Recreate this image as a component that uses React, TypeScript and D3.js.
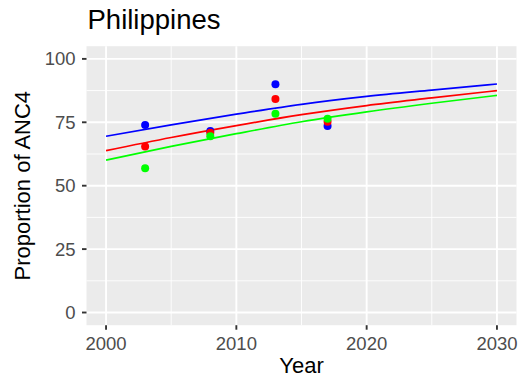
import * as d3 from "d3";

// Modelled proportions (%) at 5-year steps
const lineYears = [2000, 2005, 2010, 2015, 2020, 2025, 2030];
const blueLine = [69.5, 74.0, 78.2, 82.1, 85.2, 87.7, 90.1];
const redLine = [63.8, 69.0, 73.7, 78.0, 81.6, 84.6, 87.5];
const greenLine = [60.1, 65.5, 70.5, 75.2, 79.1, 82.5, 85.6];

// Survey observations
const surveyYears = [2003, 2008, 2013, 2017];
const bluePoints = [73.9, 71.6, 90.0, 73.5];
const redPoints = [65.5, 70.9, 84.2, 75.2];
const greenPoints = [56.9, 69.5, 78.4, 76.4];

const xTicks = [2000, 2010, 2020, 2030];
const xMinor = [2005, 2015, 2025];
const yTicks = [0, 25, 50, 75, 100];
const yMinor = [12.5, 37.5, 62.5, 87.5];

const series = [
  { color: "#0000FF", line: blueLine, points: bluePoints },
  { color: "#FF0000", line: redLine, points: redPoints },
  { color: "#00FF00", line: greenLine, points: greenPoints },
];

const W = 523;
const H = 382;
const panel = { left: 86.5, right: 516.5, top: 46.2, bottom: 325.2 };
const FONT = "'Liberation Sans', Arial, Helvetica, sans-serif";

export default function App() {
  const x = d3.scaleLinear().domain([1998.5, 2031.5]).range([panel.left, panel.right]);
  const y = d3.scaleLinear().domain([-5, 105]).range([panel.bottom, panel.top]);

  const lineGen = (vals: number[]) =>
    d3
      .line<number>()
      .x((_, i) => x(lineYears[i]))
      .y((d) => y(d))
      .curve(d3.curveMonotoneX)(vals) as string;

  return (
    <svg
      width={W}
      height={H}
      style={{ position: "absolute", left: 0, top: 0, background: "#fff" }}
      fontFamily={FONT}
    >
      {/* panel background */}
      <rect
        x={panel.left}
        y={panel.top}
        width={panel.right - panel.left}
        height={panel.bottom - panel.top}
        fill="#EBEBEB"
      />

      {/* minor grid */}
      {xMinor.map((t) => (
        <line key={"xm" + t} x1={x(t)} x2={x(t)} y1={panel.top} y2={panel.bottom} stroke="#fff" strokeWidth={0.9} />
      ))}
      {yMinor.map((t) => (
        <line key={"ym" + t} x1={panel.left} x2={panel.right} y1={y(t)} y2={y(t)} stroke="#fff" strokeWidth={0.9} />
      ))}
      {/* major grid */}
      {xTicks.map((t) => (
        <line key={"xg" + t} x1={x(t)} x2={x(t)} y1={panel.top} y2={panel.bottom} stroke="#fff" strokeWidth={1.9} />
      ))}
      {yTicks.map((t) => (
        <line key={"yg" + t} x1={panel.left} x2={panel.right} y1={y(t)} y2={y(t)} stroke="#fff" strokeWidth={1.9} />
      ))}

      {/* fitted lines */}
      {series.map((s) => (
        <path key={"l" + s.color} d={lineGen(s.line)} fill="none" stroke={s.color} strokeWidth={1.7} />
      ))}

      {/* observed points */}
      {series.map((s) =>
        s.points.map((v, i) => (
          <circle key={s.color + i} cx={x(surveyYears[i])} cy={y(v)} r={4} fill={s.color} />
        ))
      )}

      {/* x axis */}
      {xTicks.map((t) => (
        <g key={"xt" + t}>
          <line x1={x(t)} x2={x(t)} y1={panel.bottom} y2={panel.bottom + 4.5} stroke="#333" strokeWidth={1.9} />
          <text x={x(t)} y={349.5} textAnchor="middle" fontSize={18.5} fill="#4D4D4D">
            {t}
          </text>
        </g>
      ))}

      {/* y axis */}
      {yTicks.map((t) => (
        <g key={"yt" + t}>
          <line x1={panel.left - 4.5} x2={panel.left} y1={y(t)} y2={y(t)} stroke="#333" strokeWidth={1.9} />
          <text x={75.5} y={y(t) + 6.5} textAnchor="end" fontSize={18.5} fill="#4D4D4D">
            {t}
          </text>
        </g>
      ))}

      {/* axis titles */}
      <text x={(panel.left + panel.right) / 2} y={373.3} textAnchor="middle" fontSize={22} fill="#000">
        Year
      </text>
      <text
        transform={`translate(29.5,${(panel.top + panel.bottom) / 2}) rotate(-90)`}
        textAnchor="middle"
        fontSize={22}
        fill="#000"
      >
        Proportion of ANC4
      </text>

      {/* title */}
      <text x={87.5} y={28.7} fontSize={27.5} fill="#000">
        Philippines
      </text>
    </svg>
  );
}
